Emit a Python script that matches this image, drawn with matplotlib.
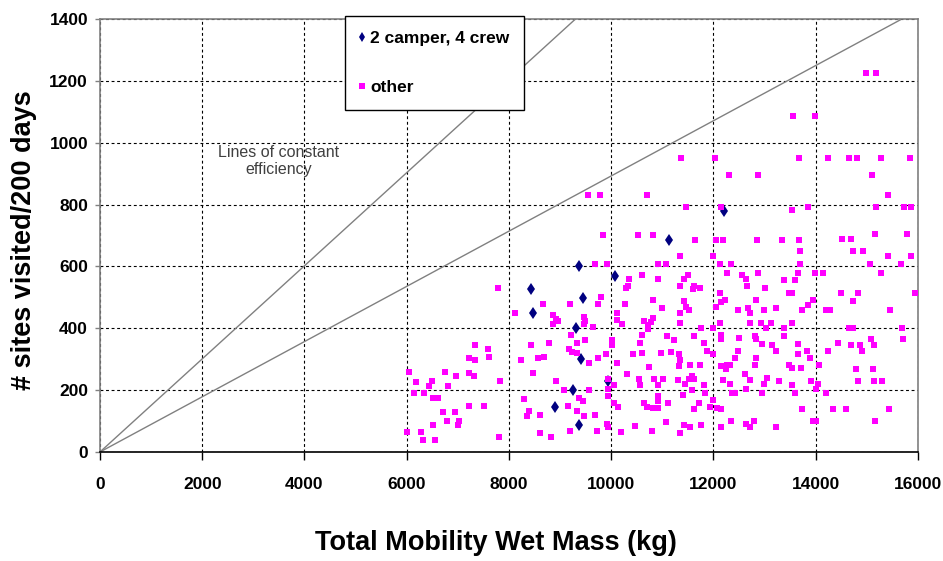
import matplotlib
matplotlib.use("Agg")
from matplotlib import pyplot as plt
from matplotlib.font_manager import FontProperties

# "2 camper, 4 crew" configurations
crew_mass = [8440, 8470, 9370, 10070, 9450, 9320, 9410, 9930, 9260, 8900, 9370, 11130, 12210]
crew_sites = [527, 448, 603, 569, 499, 401, 301, 231, 202, 147, 87, 686, 778]

# all other configurations
other_mass = [
    # 6000 - 8500 kg
    7780, 8110, 7330, 7590, 7610, 7210, 7330, 8230, 6050, 6740, 7210, 7310, 6970, 8440, 8460,
    6180, 6500, 6440, 6800, 7820, 6140, 6330, 8290, 6510, 6610, 7210, 7510, 6700, 6940, 8400,
    8350, 6520, 6780, 7020, 7000, 6010, 6280, 6310, 6560, 7800,
    # 8500 - 11100 kg
    9690, 9910, 10910, 11070, 10600, 10350, 10920, 10320, 10290, 9800, 10820, 8670, 9200, 9750,
    10270, 10990, 8870, 8920, 8950, 9470, 9490, 10110, 10120, 10210, 10650, 10710, 10820, 10780,
    8860, 9460, 9650, 10710, 9210, 11100, 10610, 10010, 9480, 10570, 8790, 9340, 9180, 9240,
    9330, 10010, 8560, 8690, 9750, 9900, 10420, 10610, 10970, 9570, 10120, 10730, 10300, 8920,
    9940, 10550, 10840, 11010, 9070, 9570, 10050, 9930, 10570, 10910, 9930, 9360, 9440, 10920,
    10920, 9160, 10060, 10140, 10650, 10690, 10810, 10910, 9340, 8600, 9470, 9690, 11080, 9910,
    9940, 10470, 10190, 10800, 8610, 8820, 9200, 9720,
    # 11100 - 13800 kg
    11340, 11990, 12120, 12350, 11500, 11420, 12270, 12550, 12630, 12870, 13370, 13590, 13650,
    13690, 13690, 11340, 11610, 11730, 11600, 12660, 13010, 12120, 12140, 12220, 12040, 11430,
    11470, 11520, 11340, 12480, 12680, 12710, 12840, 12990, 13230, 13480, 13540, 13740, 11350,
    12120, 12710, 12920, 13120, 13530, 11750, 11990, 13030, 13370, 11610, 12140, 12140, 12500,
    12820, 12840, 13370, 11220, 12940, 13140, 11810, 13650, 11160, 11320, 11880, 11990, 12420,
    12480, 12840, 13230, 13650, 11340, 11320, 11550, 11730, 12140, 12260, 12330, 12250, 12820,
    13480, 13540, 13720, 12610, 11580, 11300, 11520, 11620, 12190, 12710, 13050, 13280, 13530,
    12990, 11450, 11820, 12320, 11580, 12630, 12950, 12370, 12430, 11830, 13590, 11410, 11110,
    11710, 11990, 11620, 11930, 12060, 12140, 13740, 11420, 11540, 11760, 12140, 12350, 12630,
    12710, 12800, 13230, 11350,
    # 13800 - 16000 kg
    14720, 14930, 15420, 15860, 15060, 15660, 13980, 14140, 15270, 14500, 14830, 15950, 14720,
    13950, 13850, 14210, 14270, 15460, 14650, 14720, 15680, 15080, 15710, 14440, 14690, 14860,
    15140, 14910, 14240, 13830, 13880, 14070, 14780, 15120, 13900, 14050, 14010, 14830, 15140,
    15290, 14200, 14340, 14590, 15440, 13940, 14000, 15160,
    # upper points
    9550, 9780, 10700, 9840, 10530, 10810, 13560, 11360, 12020, 13680, 12300, 12880, 11460,
    12150, 13530, 11640, 12050, 12180, 12850, 13340, 13670, 14990, 15180, 13990, 14240, 14660,
    14810, 15280, 15840, 15100, 15410, 13840, 15180, 15720, 15870, 15160, 15790, 14520, 14690,
]
other_sites = [
    530, 450, 345, 334, 307, 304, 296, 296, 260, 260, 256, 245, 245, 345, 256,
    225, 228, 215, 215, 229, 191, 191, 171, 173, 173, 150, 150, 130, 130, 133,
    115, 88, 99, 101, 87, 65, 65, 38, 38, 49,
    607, 607, 607, 607, 572, 559, 559, 538, 529, 502, 491, 477, 477, 477,
    477, 466, 444, 431, 423, 437, 423, 451, 426, 415, 423, 412, 434, 419,
    415, 415, 404, 399, 379, 375, 379, 361, 361, 352, 352, 352, 334, 323,
    321, 347, 304, 307, 304, 318, 318, 321, 321, 287, 287, 276, 253, 229,
    236, 236, 236, 236, 202, 202, 217, 204, 217, 218, 182, 175, 166, 182,
    166, 150, 158, 146, 157, 144, 141, 141, 133, 119, 115, 119, 98, 90,
    81, 85, 65, 68, 63, 49, 68, 68,
    635, 635, 607, 607, 572, 559, 578, 572, 559, 578, 556, 556, 578,
    607, 651, 538, 538, 529, 527, 538, 529, 513, 484, 491, 469, 488,
    469, 458, 451, 460, 466, 448, 491, 460, 467, 513, 513, 458, 418,
    418, 418, 418, 418, 418, 402, 402, 402, 402, 375, 379, 364, 367,
    375, 364, 375, 361, 350, 345, 352, 350, 323, 318, 325, 318, 304,
    325, 304, 328, 318, 296, 278, 280, 280, 278, 280, 280, 267, 282,
    280, 271, 271, 253, 247, 234, 236, 236, 234, 234, 238, 228, 217,
    220, 220, 217, 220, 202, 204, 191, 191, 191, 191, 191, 184, 158,
    158, 169, 139, 147, 141, 139, 139, 88, 81, 88, 81, 99, 90,
    81, 99, 81, 63,
    651, 651, 635, 635, 607, 607, 578, 578, 578, 513, 513, 513, 489,
    491, 475, 458, 458, 458, 402, 402, 402, 366, 366, 352, 345, 345,
    345, 325, 325, 328, 304, 280, 269, 269, 229, 220, 204, 229, 229,
    229, 190, 139, 139, 139, 99, 99, 99,
    830, 830, 830, 703, 703, 703, 1085, 952, 952, 952, 895, 895, 792,
    792, 781, 687, 687, 687, 687, 687, 687, 1226, 1226, 1085, 952, 952,
    952, 952, 952, 895, 830, 792, 792, 792, 792, 706, 706, 689, 689,
]

# lines of constant efficiency (sites per kg)
steep_x = [0, 9300]
steep_y = [0, 1400]
shallow_x = [0, 15650]
shallow_y = [0, 1397]

x_ticks = [0, 2000, 4000, 6000, 8000, 10000, 12000, 14000, 16000]
y_ticks = [0, 200, 400, 600, 800, 1000, 1200, 1400]

tick_font = FontProperties(family=["Liberation Sans", "DejaVu Sans"], weight="bold", size=12.5)
legend_font = FontProperties(family=["Liberation Sans", "DejaVu Sans"], weight="bold", size=12.5)
label_font = FontProperties(family=["Liberation Sans", "DejaVu Sans"], weight="bold", size=19.5)

fig = plt.figure(figsize=(9.43, 5.61), dpi=100)
ax = fig.add_axes([0.1060, 0.1943, 0.8675, 0.7718])

ax.plot(steep_x, steep_y, color="#808080", lw=1.0, zorder=1.5)
ax.plot(shallow_x, shallow_y, color="#808080", lw=1.0, zorder=1.5)

crew_pts, = ax.plot(crew_mass, crew_sites, linestyle="none", marker="d", markersize=6.0,
                    color="#000080", mew=0, zorder=3, clip_on=False)
other_pts, = ax.plot(other_mass, other_sites, linestyle="none", marker="s", markersize=4.7,
                     color="#FF00FF", mew=0, zorder=3.1, clip_on=False)

ax.text(3500, 940, "Lines of constant\nefficiency", ha="center", va="center",
        fontsize=11.5, color="#404040", family="Liberation Sans", linespacing=1.2)

ax.set_xlim(0, 16000)
ax.set_ylim(0, 1400)
ax.set_xticks(x_ticks)
ax.set_yticks(y_ticks)
for lab in ax.get_xticklabels() + ax.get_yticklabels():
    lab.set_fontproperties(tick_font)
ax.tick_params(axis="x", direction="out", length=5.8, width=1, pad=12, colors="black")
ax.tick_params(axis="y", direction="out", length=3.6, width=1, pad=5, color="#808080", labelcolor="black")

ax.set_axisbelow(True)
ax.grid(True, color="black", linestyle=(0, (2.6, 2.4)), lw=0.8)

for side in ["left", "top", "right"]:
    ax.spines[side].set_color("#808080")
    ax.spines[side].set_linewidth(1.2)
ax.spines["bottom"].set_color("black")
ax.spines["bottom"].set_linewidth(1.2)

ax.set_xlabel("Total Mobility Wet Mass (kg)", fontproperties=label_font)
ax.xaxis.set_label_coords(0.484, -0.18)
ax.set_ylabel("# sites visited/200 days", fontproperties=label_font)
ax.yaxis.set_label_coords(-0.077, 0.49)

leg = ax.legend([crew_pts, other_pts], ["2 camper, 4 crew", "other"], loc="upper left",
                bbox_to_anchor=(0.2995, 1.007), borderaxespad=0, frameon=True, fancybox=False,
                edgecolor="black", framealpha=1, borderpad=0.85, labelspacing=1.95,
                handlelength=0.3, handletextpad=0.3, markerscale=0.8, prop=legend_font)
leg.get_frame().set_linewidth(1.0)

fig.savefig("out.png", dpi=100, facecolor="white")
